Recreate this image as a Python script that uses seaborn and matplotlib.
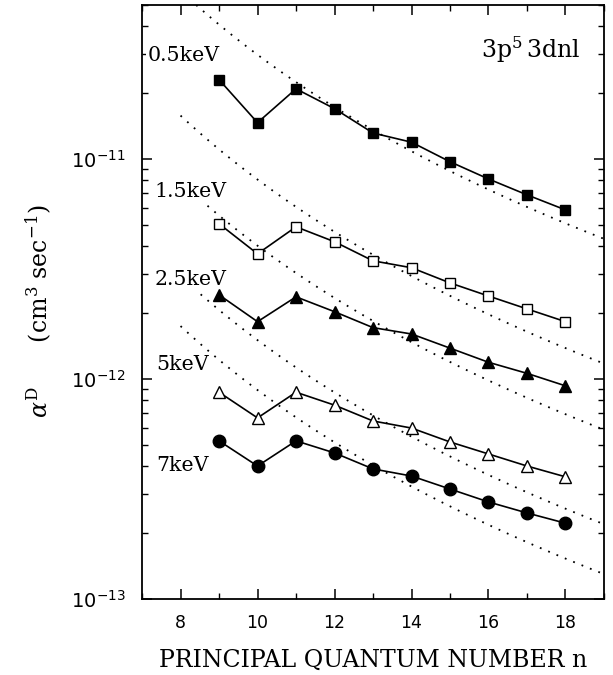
import numpy as np
import pandas as pd
import matplotlib
matplotlib.use("Agg")
import matplotlib.pyplot as plt
from matplotlib.ticker import FixedLocator, MultipleLocator, NullFormatter, LogFormatterSciNotation
import seaborn as sns

# Principal quantum number of the captured electron
n = [9, 10, 11, 12, 13, 14, 15, 16, 17, 18]

# Dielectronic recombination rate coefficients (cm^3 sec^-1) for 3p^5 3dnl
rate_05kev = [2.29e-11, 1.46e-11, 2.08e-11, 1.69e-11, 1.31e-11, 1.19e-11, 9.7e-12, 8.1e-12, 6.86e-12, 5.86e-12]
rate_15kev = [5.07e-12, 3.70e-12, 4.91e-12, 4.20e-12, 3.44e-12, 3.20e-12, 2.73e-12, 2.38e-12, 2.08e-12, 1.82e-12]
rate_25kev = [2.41e-12, 1.82e-12, 2.36e-12, 2.02e-12, 1.71e-12, 1.60e-12, 1.38e-12, 1.19e-12, 1.06e-12, 9.3e-13]
rate_5kev = [8.7e-13, 6.65e-13, 8.7e-13, 7.6e-13, 6.44e-13, 5.98e-13, 5.17e-13, 4.56e-13, 4.02e-13, 3.59e-13]
rate_7kev = [5.23e-13, 4.02e-13, 5.23e-13, 4.61e-13, 3.90e-13, 3.62e-13, 3.16e-13, 2.76e-13, 2.46e-13, 2.21e-13]

temperatures = ["0.5keV", "1.5keV", "2.5keV", "5keV", "7keV"]

# Coefficients of the n^-3 scaling curves (dotted), one per temperature
scaling_coeff = [2.97e-8, 8.05e-9, 4.03e-9, 1.50e-9, 8.9e-10]
scaling_n_start = 8
scaling_n_end = 19

y_major = [1e-13, 1e-12, 1e-11]

sns.set_style("ticks")
plt.rcParams.update({
    "font.family": ["DejaVu Sans"],
    "mathtext.fontset": "dejavuserif",
    "axes.linewidth": 1.3,
    "xtick.direction": "in",
    "ytick.direction": "in",
    "xtick.top": True,
    "ytick.right": True,
    "xtick.color": "black",
    "ytick.color": "black",
    "xtick.labelcolor": "black",
    "ytick.labelcolor": "black",
    "axes.edgecolor": "black",
    "axes.labelcolor": "black",
    "text.color": "black",
})

fig = plt.figure(figsize=(6.13, 6.75), dpi=100)
ax = fig.add_axes([0.2317, 0.1126, 0.7536, 0.88])

series = [rate_05kev, rate_15kev, rate_25kev, rate_5kev, rate_7kev]
markers = ["s", "s", "^", "^", "o"]
filled = [True, False, True, False, True]
msizes = [7.2, 7.2, 8, 8, 9]

# n^-3 scaling curves
n_fine = np.linspace(scaling_n_start, scaling_n_end, 200)
for c in scaling_coeff:
    curve = pd.DataFrame({"n": n_fine, "rate": c * n_fine ** -3.0})
    sns.lineplot(data=curve, x="n", y="rate", ax=ax, color="black",
                 linestyle=(0, (1, 4.0)), linewidth=1.3, zorder=1)

for vals, mk, fl, ms in zip(series, markers, filled, msizes):
    df = pd.DataFrame({"n": n, "rate": vals})
    sns.lineplot(data=df, x="n", y="rate", ax=ax, color="black",
                 linewidth=1.2, marker=mk, markersize=ms,
                 markerfacecolor="black" if fl else "white",
                 markeredgecolor="black", markeredgewidth=1.0, zorder=4)

ax.set_yscale("log")
ax.set_xlim(7, 19)
ax.set_ylim(1e-13, 5e-11)

ax.xaxis.set_major_locator(MultipleLocator(2))
ax.xaxis.set_minor_locator(MultipleLocator(1))
ax.yaxis.set_major_locator(FixedLocator(y_major))
minor_y = [m * d for d in [1e-13, 1e-12, 1e-11] for m in range(2, 10) if m * d <= 5e-11]
ax.yaxis.set_minor_locator(FixedLocator(minor_y))
ax.yaxis.set_major_formatter(LogFormatterSciNotation())
ax.yaxis.set_minor_formatter(NullFormatter())
ax.tick_params(which="major", length=7, width=1.1, pad=10)
ax.tick_params(which="minor", length=4, width=1.0)
ax.tick_params(axis="x", which="major", pad=11, labelsize=12.5)
ax.tick_params(axis="y", which="major", labelsize=14, pad=12)

serif = "DejaVu Serif"
ax.set_xlabel("PRINCIPAL QUANTUM NUMBER n", family=serif, fontsize=17, labelpad=12)
ax.set_ylabel(r"$\alpha^{\mathrm{D}}$      (cm$^{3}$ sec$^{-1}$)", family=serif, fontsize=17)
ax.yaxis.set_label_coords(-0.19, 0.485)

# Temperature labels (left x in n, y in rate)
label_pos = [(7.15, 2.94e-11), (7.33, 7.08e-12), (7.33, 2.82e-12), (7.38, 1.16e-12), (7.38, 4.03e-13)]
for txt, (lx, ly) in zip(temperatures, label_pos):
    ax.text(lx, ly, txt, family=serif, fontsize=14.8, ha="left", va="center", zorder=3,
            bbox=dict(facecolor="white", edgecolor="none", pad=1.0))

ax.text(0.95, 0.925, r"3p$^{5}\!$ 3dnl", transform=ax.transAxes, family=serif,
        fontsize=17, ha="right", va="center")

fig.savefig("out.png", dpi=100)
